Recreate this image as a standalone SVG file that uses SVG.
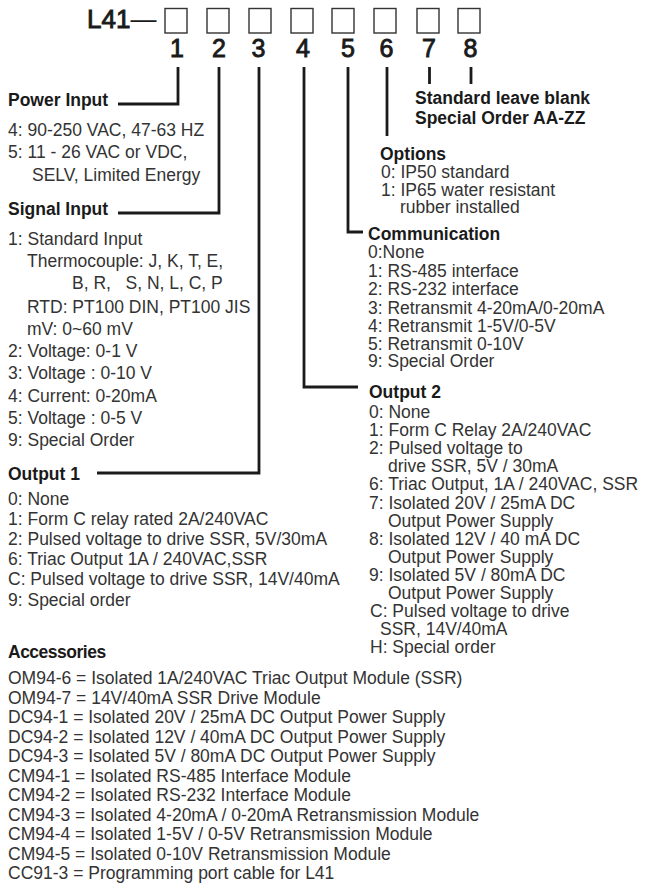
<svg xmlns="http://www.w3.org/2000/svg" width="645" height="887" viewBox="0 0 645 887">
<style>
text{font-family:"Liberation Sans",Arial,Helvetica,sans-serif;}
.t{font-size:17.5px;fill:#333;}
.h{font-size:17.5px;font-weight:bold;fill:#1a1a1a;}
.n{font-size:25px;fill:#1a1a1a;stroke:#1a1a1a;stroke-width:0.9;text-anchor:middle;}
.box{fill:none;stroke:#333;stroke-width:1.4;}
.c{fill:none;stroke:#1a1a1a;stroke-width:2.8;stroke-linejoin:miter;stroke-linecap:butt;}
</style>
<rect width="645" height="887" fill="#fff"/>
<g id="model-code">
<text x="87" y="28" style="font-size:26px;fill:#1a1a1a"><tspan style="stroke:#1a1a1a;stroke-width:0.9">L41</tspan>—</text>
<rect class="box" x="165" y="8.5" width="22" height="24.5"/>
<rect class="box" x="207" y="8.5" width="22" height="24.5"/>
<rect class="box" x="249" y="8.5" width="22" height="24.5"/>
<rect class="box" x="291" y="8.5" width="22" height="24.5"/>
<rect class="box" x="332" y="8.5" width="22" height="24.5"/>
<rect class="box" x="374" y="8.5" width="22" height="24.5"/>
<rect class="box" x="417" y="8.5" width="22" height="24.5"/>
<rect class="box" x="458" y="8.5" width="22" height="24.5"/>
<text class="n" x="177" y="57">1</text>
<text class="n" x="219" y="57">2</text>
<text class="n" x="258.5" y="57">3</text>
<text class="n" x="303" y="57">4</text>
<text class="n" x="348" y="57">5</text>
<text class="n" x="386.5" y="57">6</text>
<text class="n" x="429" y="57">7</text>
<text class="n" x="470.5" y="57">8</text>
</g>
<g id="connectors">
<path class="c" d="M178,67 V104 H118"/>
<path class="c" d="M219,67 V213 H118"/>
<path class="c" d="M259,67 V473 H97"/>
<path class="c" d="M304,67 V387 H358"/>
<path class="c" d="M348,67 V232 H363"/>
<path class="c" d="M387,67 V136"/>
<path class="c" d="M429.5,67 V84"/>
<path class="c" d="M471,67 V84"/>
</g>
<g id="power-input">
<text class="h" x="8" y="106">Power Input</text>
<text class="t" x="8" y="136">4: 90-250 VAC, 47-63 HZ</text>
<text class="t" x="8" y="158">5: 11 - 26 VAC or VDC,</text>
<text class="t" x="32" y="181">SELV, Limited Energy</text>
</g>
<g id="signal-input">
<text class="h" x="8" y="215">Signal Input</text>
<text class="t" x="8" y="245">1: Standard Input</text>
<text class="t" x="27" y="267">Thermocouple: J, K, T, E,</text>
<text class="t" x="72" y="289" xml:space="preserve">B, R,   S, N, L, C, P</text>
<text class="t" x="27" y="313">RTD: PT100 DIN, PT100 JIS</text>
<text class="t" x="27" y="335">mV: 0~60 mV</text>
<text class="t" x="8" y="357">2: Voltage: 0-1 V</text>
<text class="t" x="8" y="379">3: Voltage : 0-10 V</text>
<text class="t" x="8" y="402">4: Current: 0-20mA</text>
<text class="t" x="8" y="424">5: Voltage : 0-5 V</text>
<text class="t" x="8" y="446">9: Special Order</text>
</g>
<g id="output-1">
<text class="h" x="8" y="480">Output 1</text>
<text class="t" x="8" y="505">0: None</text>
<text class="t" x="8" y="525">1: Form C relay rated 2A/240VAC</text>
<text class="t" x="8" y="545">2: Pulsed voltage to drive SSR, 5V/30mA</text>
<text class="t" x="8" y="565">6: Triac Output 1A / 240VAC,SSR</text>
<text class="t" x="8" y="585">C: Pulsed voltage to drive SSR, 14V/40mA</text>
<text class="t" x="8" y="606">9: Special order</text>
</g>
<g id="special-order">
<text class="h" x="415" y="104">Standard leave blank</text>
<text class="h" x="415" y="124">Special Order AA-ZZ</text>
</g>
<g id="options">
<text class="h" x="380" y="160">Options</text>
<text class="t" x="381" y="178">0: IP50 standard</text>
<text class="t" x="381" y="196">1: IP65 water resistant</text>
<text class="t" x="400" y="213">rubber installed</text>
</g>
<g id="communication">
<text class="h" x="368" y="240">Communication</text>
<text class="t" x="368" y="258">0:None</text>
<text class="t" x="368" y="276.5">1: RS-485 interface</text>
<text class="t" x="368" y="295">2: RS-232 interface</text>
<text class="t" x="368" y="313.5">3: Retransmit 4-20mA/0-20mA</text>
<text class="t" x="368" y="332">4: Retransmit 1-5V/0-5V</text>
<text class="t" x="368" y="349.5">5: Retransmit 0-10V</text>
<text class="t" x="368" y="367">9: Special Order</text>
</g>
<g id="output-2">
<text class="h" x="369" y="398">Output 2</text>
<text class="t" x="369" y="418">0: None</text>
<text class="t" x="369" y="436.1">1: Form C Relay 2A/240VAC</text>
<text class="t" x="369" y="454.2">2: Pulsed voltage to</text>
<text class="t" x="388" y="472.3">drive SSR, 5V / 30mA</text>
<text class="t" x="369" y="490.4">6: Triac Output, 1A / 240VAC, SSR</text>
<text class="t" x="369" y="508.5">7: Isolated 20V / 25mA DC</text>
<text class="t" x="388" y="526.6">Output Power Supply</text>
<text class="t" x="369" y="544.7">8: Isolated 12V / 40 mA DC</text>
<text class="t" x="388" y="562.8">Output Power Supply</text>
<text class="t" x="369" y="580.9">9: Isolated 5V / 80mA DC</text>
<text class="t" x="388" y="599">Output Power Supply</text>
<text class="t" x="370" y="617.1">C: Pulsed voltage to drive</text>
<text class="t" x="380" y="635.2">SSR, 14V/40mA</text>
<text class="t" x="370" y="653.3">H: Special order</text>
</g>
<g id="accessories">
<text class="h" x="8" y="658" style="letter-spacing:-0.5px">Accessories</text>
<text class="t" x="8" y="684">OM94-6 = Isolated 1A/240VAC Triac Output Module (SSR)</text>
<text class="t" x="8" y="703.5">OM94-7 = 14V/40mA SSR Drive Module</text>
<text class="t" x="8" y="723">DC94-1 = Isolated 20V / 25mA DC Output Power Supply</text>
<text class="t" x="8" y="742.5">DC94-2 = Isolated 12V / 40mA DC Output Power Supply</text>
<text class="t" x="8" y="762">DC94-3 = Isolated 5V / 80mA DC Output Power Supply</text>
<text class="t" x="8" y="781.5">CM94-1 = Isolated RS-485 Interface Module</text>
<text class="t" x="8" y="801">CM94-2 = Isolated RS-232 Interface Module</text>
<text class="t" x="8" y="820.5">CM94-3 = Isolated 4-20mA / 0-20mA Retransmission Module</text>
<text class="t" x="8" y="840">CM94-4 = Isolated 1-5V / 0-5V Retransmission Module</text>
<text class="t" x="8" y="859.5">CM94-5 = Isolated 0-10V Retransmission Module</text>
<text class="t" x="8" y="879">CC91-3 = Programming port cable for L41</text>
</g>
</svg>
